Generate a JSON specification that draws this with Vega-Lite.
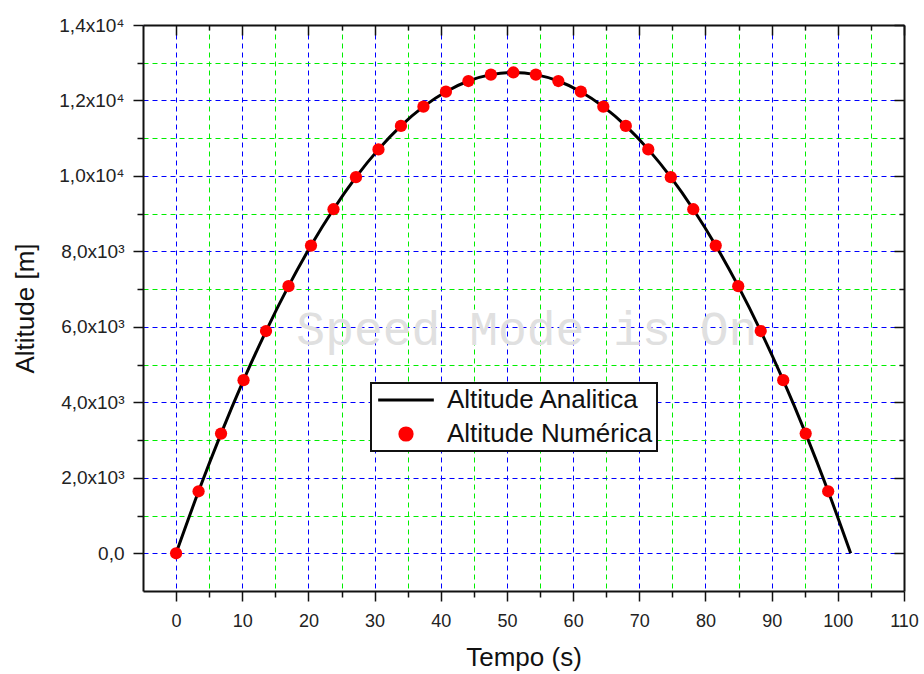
{
  "$schema": "https://vega.github.io/schema/vega-lite/v6.json",
  "autosize": {"type": "none"},
  "padding": {"left": 143, "top": 25, "right": 20, "bottom": 83},
  "width": 761,
  "height": 566,
  "background": "white",
  "config": {
    "font": "Liberation Sans",
    "view": {"stroke": null},
    "axis": {"labelFont": "Liberation Sans", "titleFont": "Liberation Sans", "labelColor": "#222", "titleColor": "#111", "tickColor": "#111", "domainColor": "#111"}
  },
  "datasets": {
    "num": [
      {"t": 0, "h": 0}, {"t": 3.398, "h": 1642.4}, {"t": 6.796, "h": 3171.5}, {"t": 10.194, "h": 4587.3},
      {"t": 13.592, "h": 5889.8}, {"t": 16.99, "h": 7079.1}, {"t": 20.388, "h": 8155.1}, {"t": 23.786, "h": 9117.9},
      {"t": 27.184, "h": 9967.4}, {"t": 30.582, "h": 10703.6}, {"t": 33.98, "h": 11326.5}, {"t": 37.378, "h": 11836.2},
      {"t": 40.776, "h": 12232.6}, {"t": 44.174, "h": 12515.7}, {"t": 47.572, "h": 12685.5}, {"t": 50.97, "h": 12742.1},
      {"t": 54.368, "h": 12685.4}, {"t": 57.766, "h": 12515.7}, {"t": 61.164, "h": 12232.6}, {"t": 64.562, "h": 11836.2},
      {"t": 67.96, "h": 11326.5}, {"t": 71.358, "h": 10703.6}, {"t": 74.756, "h": 9967.4}, {"t": 78.154, "h": 9117.9},
      {"t": 81.552, "h": 8155.1}, {"t": 84.95, "h": 7079.1}, {"t": 88.348, "h": 5889.8}, {"t": 91.746, "h": 4587.3},
      {"t": 95.144, "h": 3171.5}, {"t": 98.542, "h": 1642.4}
    ],
    "curve": [
      {"t": 0, "h": 0}, {"t": 3.398, "h": 1642.4}, {"t": 6.796, "h": 3171.5}, {"t": 10.194, "h": 4587.3},
      {"t": 13.592, "h": 5889.8}, {"t": 16.99, "h": 7079.1}, {"t": 20.388, "h": 8155.1}, {"t": 23.786, "h": 9117.9},
      {"t": 27.184, "h": 9967.4}, {"t": 30.582, "h": 10703.6}, {"t": 33.98, "h": 11326.5}, {"t": 37.378, "h": 11836.2},
      {"t": 40.776, "h": 12232.6}, {"t": 44.174, "h": 12515.7}, {"t": 47.572, "h": 12685.5}, {"t": 50.97, "h": 12742.1},
      {"t": 54.368, "h": 12685.4}, {"t": 57.766, "h": 12515.7}, {"t": 61.164, "h": 12232.6}, {"t": 64.562, "h": 11836.2},
      {"t": 67.96, "h": 11326.5}, {"t": 71.358, "h": 10703.6}, {"t": 74.756, "h": 9967.4}, {"t": 78.154, "h": 9117.9},
      {"t": 81.552, "h": 8155.1}, {"t": 84.95, "h": 7079.1}, {"t": 88.348, "h": 5889.8}, {"t": 91.746, "h": 4587.3},
      {"t": 95.144, "h": 3171.5}, {"t": 98.542, "h": 1642.4}, {"t": 101.94, "h": 0}
    ],
    "mark": [{"label": "Speed Mode is On", "t": 53, "h": 5900}]
  },
  "resolve": {"axis": {"x": "independent", "y": "independent"}},
  "layer": [
    {
      "data": {"name": "num"},
      "mark": {"type": "point", "opacity": 0},
      "encoding": {
        "x": {"field": "t", "type": "quantitative", "scale": {"domain": [-5, 110], "nice": false, "zero": false},
          "axis": {"orient": "bottom", "values": [5, 15, 25, 35, 45, 55, 65, 75, 85, 95, 105], "grid": true, "gridColor": "#00ee00", "gridDash": [5, 4], "gridWidth": 1, "gridOpacity": 1, "tickSize": 6, "tickWidth": 1.5, "labels": false, "domain": false, "title": null}},
        "y": {"field": "h", "type": "quantitative", "scale": {"domain": [-1000, 14000], "nice": false, "zero": false},
          "axis": {"orient": "left", "values": [1000, 3000, 5000, 7000, 9000, 11000, 13000], "grid": true, "gridColor": "#00ee00", "gridDash": [5, 4], "gridWidth": 1, "gridOpacity": 1, "tickSize": 6, "tickWidth": 1.5, "labels": false, "domain": false, "title": null}}
      }
    },
    {
      "data": {"name": "num"},
      "mark": {"type": "point", "opacity": 0},
      "encoding": {
        "x": {"field": "t", "type": "quantitative", "scale": {"domain": [-5, 110], "nice": false, "zero": false},
          "axis": {"orient": "bottom", "values": [0, 10, 20, 30, 40, 50, 60, 70, 80, 90, 100, 110], "grid": true, "gridColor": "#0000ff", "gridDash": [5, 4], "gridWidth": 1, "gridOpacity": 1, "tickSize": 10, "tickWidth": 1.5, "domain": true, "domainWidth": 2, "labelFontSize": 18, "labelPadding": 11, "labelFlush": false, "title": "Tempo (s)", "titleFontSize": 26, "titleFontWeight": "normal", "titlePadding": 14}},
        "y": {"field": "h", "type": "quantitative", "scale": {"domain": [-1000, 14000], "nice": false, "zero": false},
          "axis": {"orient": "left", "values": [0, 2000, 4000, 6000, 8000, 10000, 12000, 14000], "grid": true, "gridColor": "#0000ff", "gridDash": [5, 4], "gridWidth": 1, "gridOpacity": 1, "tickSize": 10, "tickWidth": 1.5, "domain": true, "domainWidth": 2, "labelFontSize": 19, "labelPadding": 9, "labelFlush": false,
            "labelExpr": "datum.value == 0 ? '0,0' : (datum.value >= 10000 ? replace(format(datum.value/10000, '.1f'), '.', ',') + 'x10⁴' : replace(format(datum.value/1000, '.1f'), '.', ',') + 'x10³')",
            "title": "Altitude [m]", "titleFontSize": 26, "titleFontWeight": "normal", "titlePadding": 20}}
      }
    },
    {
      "data": {"name": "num"},
      "mark": {"type": "point", "opacity": 0},
      "encoding": {
        "x": {"field": "t", "type": "quantitative", "scale": {"domain": [-5, 110], "nice": false, "zero": false},
          "axis": {"orient": "top", "values": [0, 10, 20, 30, 40, 50, 60, 70, 80, 90, 100, 110], "grid": false, "tickSize": -10, "tickWidth": 1.5, "domain": true, "domainWidth": 2, "labels": false, "title": null}},
        "y": {"field": "h", "type": "quantitative", "scale": {"domain": [-1000, 14000], "nice": false, "zero": false},
          "axis": {"orient": "right", "values": [0, 2000, 4000, 6000, 8000, 10000, 12000, 14000], "grid": false, "tickSize": -10, "tickWidth": 1.5, "domain": true, "domainWidth": 2, "labels": false, "title": null}}
      }
    },
    {
      "data": {"name": "num"},
      "mark": {"type": "point", "opacity": 0},
      "encoding": {
        "x": {"field": "t", "type": "quantitative", "scale": {"domain": [-5, 110], "nice": false, "zero": false},
          "axis": {"orient": "top", "values": [5, 15, 25, 35, 45, 55, 65, 75, 85, 95, 105], "grid": false, "tickSize": -5, "tickWidth": 1.5, "domain": false, "labels": false, "title": null}},
        "y": {"field": "h", "type": "quantitative", "scale": {"domain": [-1000, 14000], "nice": false, "zero": false},
          "axis": {"orient": "right", "values": [1000, 3000, 5000, 7000, 9000, 11000, 13000], "grid": false, "tickSize": -5, "tickWidth": 1.5, "domain": false, "labels": false, "title": null}}
      }
    },
    {
      "data": {"name": "mark"},
      "mark": {"type": "text", "font": "Liberation Mono", "fontSize": 48, "color": "#e0e0e0", "align": "center", "baseline": "middle"},
      "encoding": {
        "x": {"field": "t", "type": "quantitative", "scale": {"domain": [-5, 110], "nice": false, "zero": false}, "axis": null},
        "y": {"field": "h", "type": "quantitative", "scale": {"domain": [-1000, 14000], "nice": false, "zero": false}, "axis": null},
        "text": {"field": "label"}
      }
    },
    {
      "data": {"name": "curve"},
      "mark": {"type": "line", "strokeWidth": 3, "interpolate": "monotone"},
      "encoding": {
        "x": {"field": "t", "type": "quantitative", "scale": {"domain": [-5, 110], "nice": false, "zero": false}, "axis": null},
        "y": {"field": "h", "type": "quantitative", "scale": {"domain": [-1000, 14000], "nice": false, "zero": false}, "axis": null},
        "color": {"datum": "Altitude Analitica", "type": "nominal",
          "scale": {"domain": ["Altitude Analitica", "Altitude Numérica"], "range": ["black", "red"]},
          "legend": {"orient": "none", "legendX": 228, "legendY": 358, "title": null, "labelFont": "Liberation Sans", "labelFontSize": 26, "labelColor": "#111", "labelLimit": 0, "symbolSize": 700, "rowPadding": 8, "padding": 4, "strokeColor": "#111", "fillColor": "white",
            "encode": {
              "legend": {"update": {"strokeWidth": {"value": 2}}},
              "labels": {"update": {"x": {"value": 72}}},
              "symbols": {"update": {
                "x": {"value": 31},
                "shape": {"signal": "datum.value === 'Altitude Analitica' ? 'stroke' : 'circle'"},
                "size": {"signal": "datum.value === 'Altitude Analitica' ? 3100 : 150"},
                "fill": {"signal": "datum.value === 'Altitude Analitica' ? 'transparent' : 'red'"},
                "stroke": {"signal": "datum.value === 'Altitude Analitica' ? 'black' : 'transparent'"},
                "strokeWidth": {"value": 3},
                "opacity": {"value": 1}
              }}}}
        }
      }
    },
    {
      "data": {"name": "num"},
      "mark": {"type": "point", "filled": true, "size": 150, "opacity": 1},
      "encoding": {
        "x": {"field": "t", "type": "quantitative", "scale": {"domain": [-5, 110], "nice": false, "zero": false}, "axis": null},
        "y": {"field": "h", "type": "quantitative", "scale": {"domain": [-1000, 14000], "nice": false, "zero": false}, "axis": null},
        "color": {"datum": "Altitude Numérica", "type": "nominal"}
      }
    }
  ]
}
